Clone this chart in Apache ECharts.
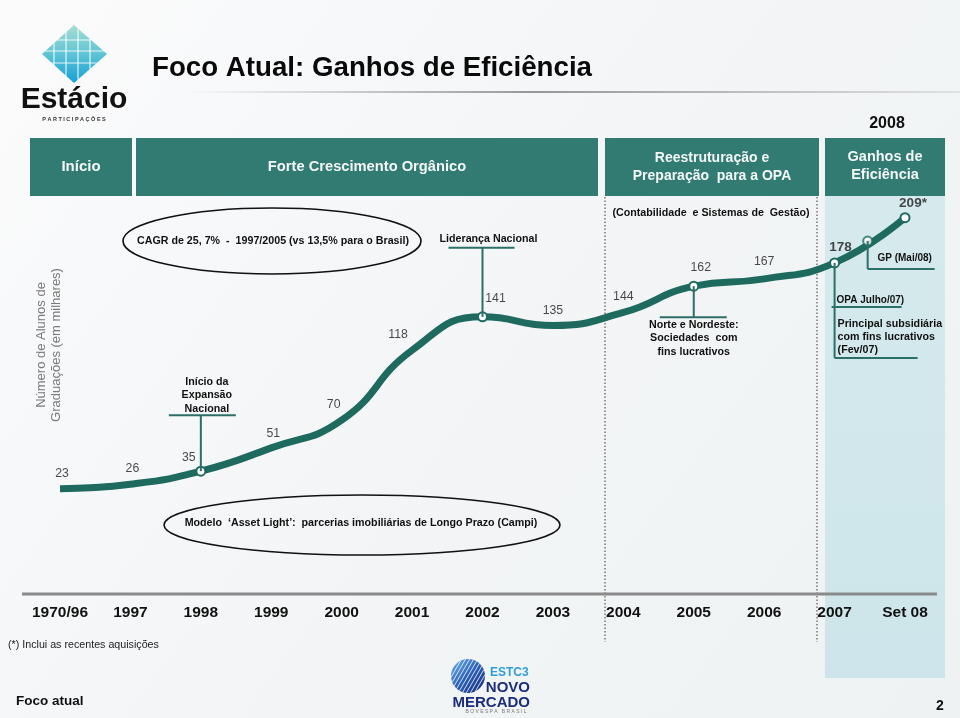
<!DOCTYPE html>
<html><head><meta charset="utf-8">
<script src="https://cdn.jsdelivr.net/npm/echarts@6/dist/echarts.min.js"></script>
<style>html,body{margin:0;padding:0;background:#fff}#c{width:960px;height:718px}</style>
</head><body><div id="c"></div>
<script>
// ---- data ----
const categories = ['1970/96','1997','1998','1999','2000','2001','2002','2003','2004','2005','2006','2007','Set 08'];
const students = [23,26,35,51,70,118,141,135,144,162,167,178,209];
const valueLabels = ['23','26','35','51','70','118','141','135','144','162','167','178','209*'];
const boldLabelIdx = [11,12];
const markedIdx = [2,6,9,11,12];
const gpPoint = [11.47, 193];
// label offsets (dx, dy) in px relative to each point
const labelOffsets = [[2,-15],[2,-16],[-12,-14],[2,-14],[-8,-16],[-14,-16],[13,-18],[0,-15],[0,-16],[7,-19],[0,-17],[6,-16],[8,-14]];

const FONT = '"Liberation Sans", Arial, sans-serif';
const TEAL = '#1e6a5f';
const BOX = '#317b73';
const CALL = '#2b6f66';
const ANN = 'bold 10.7px ' + FONT;

const chart = echarts.init(document.getElementById('c'), null, {renderer:'canvas'});

const lineData = students.map((v,i)=>({
  value:[i,v],
  symbol: markedIdx.includes(i) ? 'circle' : 'none'
}));
const labelData = students.map((v,i)=>({
  value:[i,v],
  label:{
    offset: labelOffsets[i],
    formatter: valueLabels[i],
    fontWeight: boldLabelIdx.includes(i) ? 'bold' : 'normal',
    fontSize: boldLabelIdx.includes(i) ? 13.5 : 12.3
  }
}));

chart.setOption({
  animation:false,
  backgroundColor:{type:'linear',x:0,y:0,x2:1,y2:1,colorStops:[{offset:0,color:'#fbfbfc'},{offset:0.5,color:'#f3f5f6'},{offset:1,color:'#eef2f3'}]},
  grid:{left:60,right:55,top:158,bottom:123},
  xAxis:{type:'value',min:0,max:12,interval:1,z:5,
    axisLine:{show:false},axisTick:{show:false},splitLine:{show:false},
    axisLabel:{formatter:v=>categories[v]||'',margin:10,fontSize:15.5,fontWeight:'bold',color:'#111',fontFamily:FONT,showMinLabel:true,showMaxLabel:true}},
  yAxis:{type:'value',min:-50,max:250,show:false},
  series:[
    {type:'line',data:lineData,smooth:true,showAllSymbol:true,symbolSize:9,z:5,
      lineStyle:{width:7,color:TEAL},
      itemStyle:{color:'#ffffff',borderColor:TEAL,borderWidth:2},
      label:{show:false}},
    {type:'scatter',data:[gpPoint],symbol:'circle',symbolSize:9,z:6,
      itemStyle:{color:'#ffffff',borderColor:TEAL,borderWidth:2}},
    {type:'scatter',data:labelData,symbolSize:1,z:7,silent:true,
      itemStyle:{color:'transparent'},
      label:{show:true,position:'inside',color:'#1a1a1a',fontFamily:FONT}}
  ]
});

const toPx = p => chart.convertToPixel({gridIndex:0}, p);
const p35 = toPx([2,students[2]]);
const p141 = toPx([6,students[6]]);
const p162 = toPx([9,students[9]]);
const p178 = toPx([11,students[11]]);
const pGP = toPx(gpPoint);

const g = [];
function line(x1,y1,x2,y2,color,w,extra){
  const st={stroke:color,lineWidth:w};
  if(extra&&extra.dash) st.lineDash=extra.dash;
  g.push({type:'line',shape:{x1,y1,x2,y2},style:st,z:extra&&extra.z!=null?extra.z:20,silent:true});
}
function text(x,y,t,opt){ g.push({type:'text',x,y,z:(opt&&opt.z)||25,silent:true,rotation:(opt&&opt.rotation)||0,style:Object.assign({text:t,fill:'#111',font:ANN,align:'center',verticalAlign:'middle',lineHeight:13.5},opt&&opt.style)}); }

// Light blue 2008 region (behind axis labels and line)
g.push({type:'rect',shape:{x:825,y:196,width:120,height:482},style:{fill:{type:'linear',x:0,y:0,x2:0,y2:1,colorStops:[{offset:0,color:'#d6eaed'},{offset:1,color:'#cde5ea'}]}},z:-2,silent:true});
// dotted separators
line(605,197,605,642,'#777',1.5,{dash:[1.5,2],z:-1});
line(817,197,817,642,'#777',1.5,{dash:[1.5,2],z:-1});
// axis baseline
line(22,594,937,594,'#8a8a8a',3,{z:3});

// title
text(152,68,'Foco Atual: Ganhos de Eficiência',{style:{font:'bold 27.7px '+FONT,align:'left',fill:'#0a0a0a'}});
g.push({type:'rect',shape:{x:185,y:91,width:775,height:2},style:{fill:{type:'linear',x:0,y:0,x2:1,y2:0,colorStops:[{offset:0,color:'rgba(150,150,150,0)'},{offset:0.45,color:'rgba(140,140,140,0.9)'},{offset:1,color:'rgba(150,150,150,0.2)'}]}},z:3,silent:true});
text(887,124,'2008',{style:{font:'bold 16px '+FONT}});

// header boxes
const boxes = [[30,132,'Início',15,167],[136,598,'Forte Crescimento Orgânico',14.7,167],[605,819,'Reestruturação e\nPreparação  para a OPA',14,167],[825,945,'Ganhos de\nEficiência',14.5,166]];
boxes.forEach(b=>{
  g.push({type:'rect',shape:{x:b[0],y:138,width:b[1]-b[0],height:58},style:{fill:BOX},z:4,silent:true});
  text((b[0]+b[1])/2,b[4],b[2],{style:{font:'bold '+b[3]+'px '+FONT,fill:'#f4f8f7',lineHeight:17.5}});
});

// y axis title
text(49,345,'Número de Alunos de\nGraduações (em milhares)',{rotation:Math.PI/2,style:{font:'13px '+FONT,fill:'#7a7a7a',lineHeight:15}});

// ellipses
g.push({type:'ellipse',shape:{cx:272,cy:241,rx:149,ry:33},style:{fill:null,stroke:'#111',lineWidth:1.6},z:10,silent:true});
text(273,241,'CAGR de 25, 7%  -  1997/2005 (vs 13,5% para o Brasil)');
g.push({type:'ellipse',shape:{cx:362,cy:525,rx:198,ry:30},style:{fill:null,stroke:'#111',lineWidth:1.6},z:10,silent:true});
text(361,523,'Modelo  ‘Asset Light’:  parcerias imobiliárias de Longo Prazo (Campi)');
text(711,213,'(Contabilidade  e Sistemas de  Gestão)');

// callouts anchored to the points
// Início da Expansão Nacional
line(p35[0],p35[1],p35[0],p35[1]-56,CALL,2);
line(p35[0]-32,p35[1]-56,p35[0]+35,p35[1]-56,CALL,2);
text(p35[0]+6,p35[1]-76,'Início da\nExpansão\nNacional');
// Liderança Nacional
line(p141[0],p141[1],p141[0],p141[1]-69,CALL,2);
line(p141[0]-34,p141[1]-69,p141[0]+32,p141[1]-69,CALL,2);
text(p141[0]+6,p141[1]-78,'Liderança Nacional');
// Norte e Nordeste
line(p162[0],p162[1],p162[0],p162[1]+31,CALL,2);
line(p162[0]-34,p162[1]+31,p162[0]+33,p162[1]+31,CALL,2);
text(p162[0],p162[1]+52,'Norte e Nordeste:\nSociedades  com\nfins lucrativos');
// OPA / Principal subsidiária
line(p178[0],p178[1],p178[0],p178[1]+95,CALL,2);
line(p178[0]-3,p178[1]+44,p178[0]+67,p178[1]+44,CALL,2);
line(p178[0],p178[1]+95,p178[0]+83,p178[1]+95,CALL,2);
text(p178[0]+2,p178[1]+37,'OPA Julho/07)',{style:{align:'left',font:'bold 10px '+FONT}});
text(p178[0]+3,p178[1]+74,'Principal subsidiária\ncom fins lucrativos\n(Fev/07)',{style:{align:'left',lineHeight:13}});
// GP
line(pGP[0],pGP[1],pGP[0],pGP[1]+28,CALL,2);
line(pGP[0],pGP[1]+28,pGP[0]+67,pGP[1]+28,CALL,2);
text(pGP[0]+37,pGP[1]+17,'GP (Mai/08)',{style:{font:'bold 10px '+FONT}});

// footer
text(8,645,'(*) Inclui as recentes aquisições',{style:{align:'left',font:'10.7px '+FONT,fill:'#222'}});
text(16,701,'Foco atual',{style:{align:'left',font:'bold 13.5px '+FONT,fill:'#111'}});
text(940,706,'2',{style:{font:'bold 14px '+FONT}});

// Estácio logo
g.push({type:'polygon',shape:{points:[[74,25],[107,54],[74,83],[42,54]]},style:{fill:{type:'linear',x:0,y:0,x2:0,y2:1,colorStops:[{offset:0,color:'#a9ddd4'},{offset:0.5,color:'#5ec4d4'},{offset:1,color:'#169fd6'}]}},z:8,silent:true});
[-20,-8,4,16].forEach(d=>{
  const x=74+d, h=29*(1-Math.abs(d)/33);
  line(x,54-h,x,54+h,'rgba(255,255,255,0.85)',1.2,{z:9});
});
[-14,-3,9].forEach(d=>{
  const y=54+d, w=33*(1-Math.abs(d)/29);
  line(74-w,y,74+w,y,'rgba(255,255,255,0.85)',1.2,{z:9});
});
text(74,100,'Estácio',{style:{font:'bold 30px '+FONT,fill:'#111'}});
text(74,119,'P A R T I C I P A Ç Õ E S',{style:{font:'bold 5.5px '+FONT,fill:'#333'}});

// Novo Mercado logo
const gc=[468,676], gr=17;
g.push({type:'circle',shape:{cx:gc[0],cy:gc[1],r:gr},style:{fill:{type:'linear',x:0,y:0,x2:1,y2:1,colorStops:[{offset:0,color:'#6fb9ea'},{offset:0.5,color:'#2a5fb8'},{offset:1,color:'#17297a'}]}},z:8,silent:true});
const ang=-Math.PI/3, ux=Math.cos(ang), uy=Math.sin(ang), nx=-uy, ny=ux;
for(let d=-14; d<=14; d+=3.5){
  const h=Math.sqrt(gr*gr-d*d), cx=gc[0]+d*nx, cy=gc[1]+d*ny;
  line(cx-h*ux,cy-h*uy,cx+h*ux,cy+h*uy,'rgba(255,255,255,0.8)',1,{z:9});
}
text(490,673,'ESTC3',{style:{align:'left',font:'bold 12px '+FONT,fill:'#2e9fd9'}});
text(530,688,'NOVO',{style:{align:'right',font:'bold 15px '+FONT,fill:'#1b2d7c'}});
text(530,703,'MERCADO',{style:{align:'right',font:'bold 15px '+FONT,fill:'#1b2d7c'}});
text(496,712,'B O V E S P A   B R A S I L',{style:{font:'5px '+FONT,fill:'#777'}});

chart.setOption({graphic:g});
</script></body></html>
